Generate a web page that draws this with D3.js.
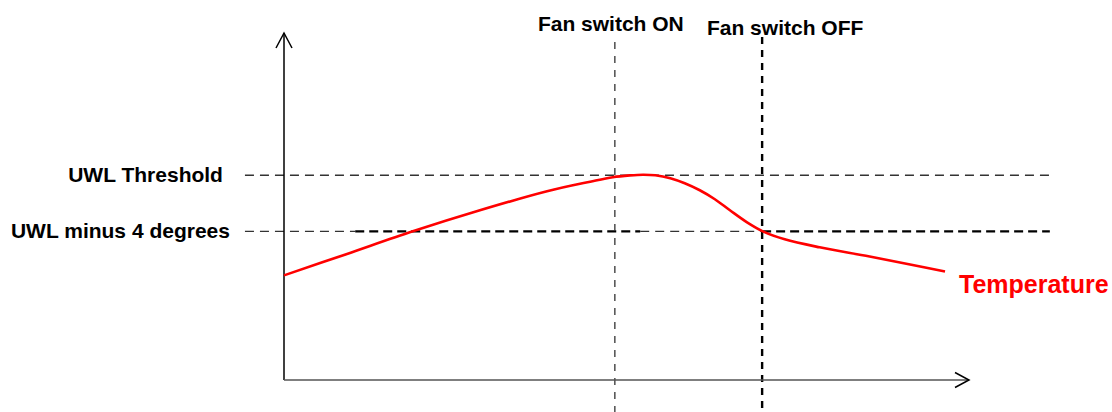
<!DOCTYPE html>
<html>
<head>
<meta charset="utf-8">
<script src="https://cdn.jsdelivr.net/npm/d3@7"></script>
<style>
    body { margin: 0; background: #fff; }
    text { font-family: "Liberation Sans", Arial, sans-serif; font-weight: bold; }
</style>
</head>
<body>
<div id="chart"></div>
<script>

//******************************************************************************
//**  Data
//******************************************************************************
var times = [0, 9.2, 18.8, 28.6, 38.4, 44.7, 48.0, 50.5, 52.4, 54.2, 56.4, 58.5, 60.7, 62.9, 65.1, 67.6, 69.9, 73.1, 78.2, 85.5, 91.4, 96.5];
var temps = [32.86, 34.39, 36.0, 37.5, 38.86, 39.54, 39.86, 39.99, 40.04, 40.0, 39.79, 39.43, 38.93, 38.29, 37.5, 36.64, 36.0, 35.43, 34.86, 34.21, 33.64, 33.14];

var thresholdNames = ["UWL Threshold", "UWL minus 4 degrees"];
var thresholdValues = [40, 36];

var eventNames = ["Fan switch ON", "Fan switch OFF"];
var eventTimes = [48.3, 69.8];

var seriesName = "Temperature";


//******************************************************************************
//**  Chart
//******************************************************************************
var width = 1112, height = 412;

var svg = d3.select("#chart").append("svg")
    .attr("width", width)
    .attr("height", height);

var x = d3.scaleLinear().domain([0, 100]).range([284, 969]);
var y = d3.scaleLinear().domain([25.4, 50]).range([380, 35]);

var lineStart = -5.7, lineEnd = 111.8;

var thin = { stroke: "#333", width: 1.3, dash: "9,6" };
var bold = { stroke: "#000", width: 2.4, dash: "9,5" };


  //Threshold line segments (upper one thin, lower one mixed)
    var segments = [
        { v: thresholdValues[0], from: lineStart, to: lineEnd, s: thin },
        { v: thresholdValues[1], from: lineStart, to: 10.4, s: thin },
        { v: thresholdValues[1], from: 10.4, to: 52, s: bold },
        { v: thresholdValues[1], from: 52, to: eventTimes[1], s: thin },
        { v: thresholdValues[1], from: eventTimes[1], to: lineEnd, s: bold }
    ];

    svg.append("g").selectAll("line")
        .data(segments)
        .enter()
        .append("line")
        .attr("x1", function(d){ return x(d.from); })
        .attr("x2", function(d){ return x(d.to); })
        .attr("y1", function(d){ return y(d.v); })
        .attr("y2", function(d){ return y(d.v); })
        .style("stroke", function(d){ return d.s.stroke; })
        .style("stroke-width", function(d){ return d.s.width; })
        .style("stroke-dasharray", function(d){ return d.s.dash; });

  //Threshold labels
    svg.append("g").selectAll("text")
        .data(thresholdNames)
        .enter()
        .append("text")
        .attr("x", function(d, i){ return x(lineStart) - (i===0 ? 22 : 15); })
        .attr("y", function(d, i){ return y(thresholdValues[i]) + 7; })
        .attr("text-anchor", "end")
        .style("font-size", "21px")
        .style("fill", "#000")
        .text(function(d){ return d; });


  //Event lines
    svg.append("line")
        .attr("x1", x(eventTimes[0])).attr("x2", x(eventTimes[0]))
        .attr("y1", 42).attr("y2", height)
        .style("stroke", "#333")
        .style("stroke-width", 1.3)
        .style("stroke-dasharray", "7,7");

    svg.append("line")
        .attr("x1", x(eventTimes[1])).attr("x2", x(eventTimes[1]))
        .attr("y1", 37).attr("y2", height)
        .style("stroke", "#000")
        .style("stroke-width", 2.4)
        .style("stroke-dasharray", "7,6");

    svg.append("text")
        .attr("x", x(eventTimes[0]) - 4)
        .attr("y", 31)
        .attr("text-anchor", "middle")
        .style("font-size", "21px")
        .text(eventNames[0]);

    svg.append("text")
        .attr("x", x(eventTimes[1]) + 23)
        .attr("y", 35)
        .attr("text-anchor", "middle")
        .style("font-size", "21px")
        .text(eventNames[1]);


  //Axes with open arrow heads
    var x0 = x(0), y0 = y(25.4);
    svg.append("line")
        .attr("x1", x0).attr("x2", x0)
        .attr("y1", y0).attr("y2", 33)
        .style("stroke", "#000").style("stroke-width", 1.5);
    svg.append("path")
        .attr("d", "M" + (x0-8) + ",48L" + x0 + ",33L" + (x0+8) + ",48")
        .style("fill", "none").style("stroke", "#000").style("stroke-width", 1.5);

    var xEnd = x(100);
    svg.append("line")
        .attr("x1", x0).attr("x2", xEnd)
        .attr("y1", y0).attr("y2", y0)
        .style("stroke", "#555").style("stroke-width", 1.5);
    svg.append("path")
        .attr("d", "M" + (xEnd-14) + "," + (y0-7.5) + "L" + xEnd + "," + y0 + "L" + (xEnd-14) + "," + (y0+7.5))
        .style("fill", "none").style("stroke", "#000").style("stroke-width", 1.5);


  //Temperature curve
    var line = d3.line()
        .x(function(d, i){ return x(times[i]); })
        .y(function(d){ return y(d); })
        .curve(d3.curveCatmullRom.alpha(0.5));

    svg.append("path")
        .datum(temps)
        .attr("d", line)
        .style("fill", "none")
        .style("stroke", "#ff0000")
        .style("stroke-width", 2.6);

    svg.append("text")
        .attr("x", 959)
        .attr("y", 293)
        .style("font-size", "25px")
        .style("fill", "#ff0000")
        .text(seriesName);

</script>
</body>
</html>
